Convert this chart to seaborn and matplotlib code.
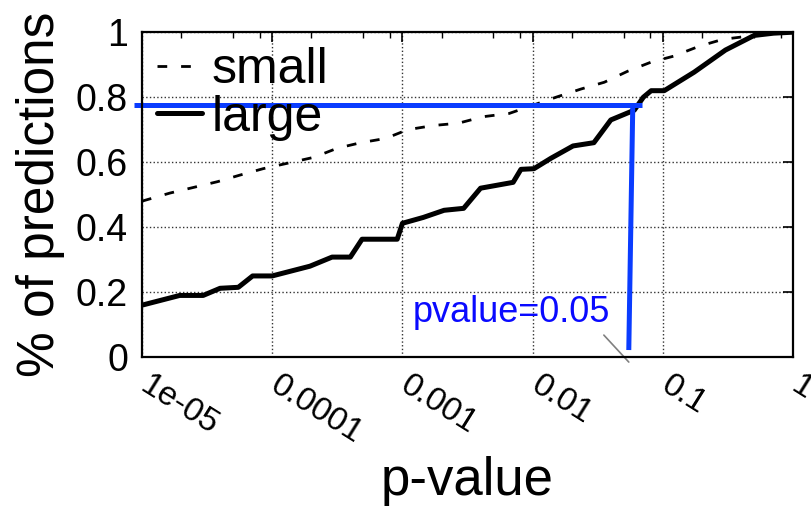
import numpy as np
import pandas as pd
import seaborn as sns
import matplotlib.pyplot as plt
from matplotlib.transforms import ScaledTranslation

# data (x stored as log10 of the p-value)
small_logp = [-5.0, -4.785, -4.42, -4.25, -4.07, -3.88, -3.68, -3.5, -3.32, -3.13,
              -2.96, -2.76, -2.57, -2.38, -2.18, -1.82, -1.63, -1.45, -1.27, -1.09,
              -0.92, -0.72, -0.54, -0.30, -0.07, 0.0]
small_frac = [0.48, 0.505, 0.54, 0.56, 0.58, 0.597, 0.615, 0.643, 0.66, 0.673,
              0.70, 0.713, 0.72, 0.74, 0.75, 0.80, 0.825, 0.846, 0.88, 0.908,
              0.926, 0.957, 0.978, 0.99, 1.0, 1.0]

large_logp = [-5.0, -4.71, -4.53, -4.40, -4.26, -4.15, -4.0, -3.71, -3.54, -3.40,
              -3.31, -3.04, -3.0, -2.84, -2.68, -2.53, -2.40, -2.15, -2.09, -1.99,
              -1.86, -1.69, -1.53, -1.40, -1.22, -1.15, -1.09, -0.99, -0.76, -0.52,
              -0.30, -0.15, 0.0]
large_frac = [0.16, 0.19, 0.19, 0.212, 0.215, 0.25, 0.25, 0.28, 0.308, 0.308,
              0.363, 0.363, 0.412, 0.43, 0.452, 0.458, 0.52, 0.538, 0.578, 0.58,
              0.612, 0.65, 0.66, 0.73, 0.76, 0.80, 0.82, 0.82, 0.877, 0.945,
              0.99, 0.997, 1.0]

# blue threshold marker
thr_y = 0.775
thr_h_x = [8.7e-6, 0.069]
thr_v_x = [0.0587, 0.0547]
thr_v_y = [0.775, 0.022]
pointer_x = [0.0352, 0.0547]
pointer_y = [0.068, -0.015]

xticks = [1e-5, 1e-4, 1e-3, 1e-2, 1e-1, 1]
xticklabels = ['1e-05', '0.0001', '0.001', '0.01', '0.1', '1']
yticks = [0, 0.2, 0.4, 0.6, 0.8, 1]
yticklabels = ['0', '0.2', '0.4', '0.6', '0.8', '1']

df_small = pd.DataFrame({'p': 10.0 ** np.array(small_logp), 'frac': small_frac})
df_large = pd.DataFrame({'p': 10.0 ** np.array(large_logp), 'frac': large_frac})

sns.set_style('white')
plt.rcParams['font.family'] = ['Liberation Sans', 'DejaVu Sans']
plt.rcParams['text.color'] = 'black'
plt.rcParams['axes.labelcolor'] = 'black'
plt.rcParams['xtick.color'] = 'black'
plt.rcParams['ytick.color'] = 'black'

fig = plt.figure(figsize=(8.11, 5.11), dpi=100)
ax = fig.add_axes([0.175, 0.301, 0.803, 0.636])

sns.lineplot(data=df_small, x='p', y='frac', ax=ax, color='black', lw=2,
             linestyle=(0, (3.5, 5)), label='small')
sns.lineplot(data=df_large, x='p', y='frac', ax=ax, color='black', lw=3.6,
             label='large')

ax.set_xscale('log')
ax.set_xlim(1e-5, 1)
ax.set_ylim(0, 1)

# blue threshold lines
ax.plot(thr_h_x, [thr_y, thr_y], color='#0a3cff', lw=3.6, clip_on=False,
        solid_capstyle='butt')
ax.plot(thr_v_x, thr_v_y, color='#0a3cff', lw=3.6, clip_on=False,
        solid_capstyle='butt')
ax.plot(pointer_x, pointer_y, color='gray', lw=1.2, clip_on=False)
ax.text(0.00119, 0.138, 'pvalue=0.05', color='#0a0aff', fontsize=26,
        ha='left', va='center')

ax.set_xticks(xticks)
ax.set_xticklabels(xticklabels, rotation=-32, ha='left', va='top',
                   rotation_mode='default', fontsize=24)
ax.xaxis.set_minor_locator(plt.matplotlib.ticker.LogLocator(base=10, subs=[2, 5, 8]))
ax.xaxis.set_minor_formatter(plt.NullFormatter())
ax.set_yticks(yticks)
ax.set_yticklabels(yticklabels, fontsize=27)
ax.tick_params(axis='both', which='both', direction='in', top=True, right=True,
               color='black')
ax.tick_params(axis='both', which='major', length=7, width=1.2)
ax.tick_params(axis='x', which='major', pad=9)
ax.tick_params(axis='y', which='major', pad=10)
ax.tick_params(axis='x', which='minor', length=4, width=1)

ax.grid(True, which='major', linestyle=':', color='#333333', lw=1)
for s in ax.spines.values():
    s.set_color('black')
    s.set_linewidth(1.6)

ax.set_xlabel('p-value', fontsize=38)
ax.xaxis.set_label_coords(0.5, -0.305)
ax.set_ylabel('% of predictions', fontsize=37)
ax.yaxis.set_label_coords(-0.118, 0.5)

ax.legend(loc='upper left', bbox_to_anchor=(0.0, 1.0), frameon=False,
          fontsize=36, handlelength=0.9, handletextpad=0.2, labelspacing=0.03,
          borderaxespad=0.0, borderpad=0.3)

# nudge rotated labels so they start right at the tick (after all tick_params)
fig.canvas.draw()
shift = ScaledTranslation(-0.07, 0, fig.dpi_scale_trans)
for lab in ax.get_xticklabels():
    lab.set_transform(lab.get_transform() + shift)

fig.savefig('out.png', dpi=100)
